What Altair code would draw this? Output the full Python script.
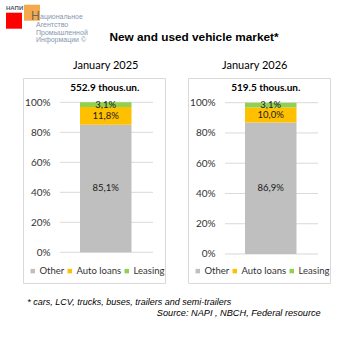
import altair as alt
import pandas as pd

# ---------------- data ----------------
periods = ["January 2025", "January 2026"]
totals = [552.9, 519.5]
categories = ["Other", "Auto loans", "Leasing"]
other = [85.1, 86.9]
auto_loans = [11.8, 10.0]
leasing = [3.1, 3.1]
colors = ["#BFBFBF", "#FFC000", "#92D050"]
y_ticks = [0, 20, 40, 60, 80, 100]

main_title = "New and used vehicle market*"
footnote = "* cars, LCV, trucks, buses, trailers and semi-trailers"
source = "Source: NAPI , NBCH, Federal resource"
logo_small = "НАПИ"
logo_big = "Н"
logo_first = "ациональное"
logo_rest = ["Агентство", "Промышленной", "Информации ©"]

FONT = "Lato"
ARIAL = "Liberation Sans"

rows = []
for i, p in enumerate(periods):
    for k, (cat, vals) in enumerate(zip(categories, [other, auto_loans, leasing])):
        v = vals[i]
        rows.append({"period": p, "category": cat, "value": v, "order": k,
                     "label": f"{v:.1f}%".replace(".", ",")})
df = pd.DataFrame(rows)
head_df = pd.DataFrame({"period": periods,
                        "header": [f"{t:.1f} thous.un." for t in totals]})
grid_df = pd.DataFrame({"tick": y_ticks})
one = pd.DataFrame({"a": [0]})

panel_cfg = [
    dict(domain=[-20.47, 116.2], title_dx=0, head_dx=-1),
    dict(domain=[-19.17, 116.32], title_dx=-16, head_dx=-5),
]


def make_panel(i):
    p = periods[i]
    cfg = panel_cfg[i]
    yscale = alt.Scale(domain=cfg["domain"], nice=False, zero=False)
    yaxis = alt.Axis(values=y_ticks, labelExpr="datum.value + '%'", title=None,
                     domain=False, ticks=False, tickSize=0, grid=False,
                     labelPadding=0, offset=-27, labelFont=FONT,
                     labelFontSize=10, labelColor="#333333")
    xscale = alt.Scale(domain=[p], range=[57, 108.5], paddingInner=0, paddingOuter=0)
    xenc = alt.X("period:N", scale=xscale, axis=None)
    d = df[df.period == p]
    h = head_df[head_df.period == p]

    grid = alt.Chart(grid_df).mark_rule(color="#D9D9D9", strokeWidth=1).encode(
        y=alt.Y("tick:Q", scale=yscale, axis=yaxis),
        x=alt.value(37), x2=alt.value(130))

    bars = alt.Chart(d).mark_bar().encode(
        x=xenc,
        y=alt.Y("value:Q", stack="zero", scale=yscale, axis=yaxis),
        color=alt.Color("category:N",
                        scale=alt.Scale(domain=categories, range=colors),
                        legend=alt.Legend(orient="none", legendX=5, legendY=188,
                                          direction="horizontal", title=None,
                                          symbolType="square", symbolSize=20,
                                          symbolStrokeWidth=0,
                                          labelFont=FONT, labelFontSize=9.5,
                                          labelColor="#333333", labelOffset=2,
                                          columnPadding=0, padding=0)),
        order=alt.Order("order:Q", sort="ascending"))

    labels = alt.Chart(d).transform_stack(
        stack="value", groupby=["period"], as_=["y0", "y1"],
        sort=[alt.SortField("order", order="ascending")]
    ).transform_calculate(mid="(datum.y0 + datum.y1) / 2").mark_text(
        font=FONT, fontSize=9.5, color="#1a1a1a", baseline="middle"
    ).encode(x=xenc, y=alt.Y("mid:Q", scale=yscale, axis=yaxis), text="label:N")

    header = alt.Chart(h).mark_text(
        font=FONT, fontSize=10, fontWeight="bold", color="#000000",
        baseline="middle", dx=cfg["head_dx"]
    ).encode(x=xenc, y=alt.value(10), text="header:N")

    ptitle = alt.Chart(h).mark_text(
        font=FONT, fontSize=11, color="#000000", baseline="middle",
        dx=cfg["title_dx"]
    ).encode(x=xenc, y=alt.value(-12), text="period:N")

    layers = [grid, bars, labels, header, ptitle]

    if i == 0:
        red = alt.Chart(one).mark_rect(color="#FF0000").encode(
            x=alt.value(-17), x2=alt.value(-1), y=alt.value(-65.3), y2=alt.value(-49.3))
        orange = alt.Chart(one).mark_rect(color="#F39A2E", opacity=0.85).encode(
            x=alt.value(1), x2=alt.value(17), y=alt.value(-73.3), y2=alt.value(-57.3))
        t_small = alt.Chart(one).mark_text(
            font=ARIAL, fontSize=6, fontWeight="bold", color="#4A5A6A",
            align="left", baseline="alphabetic"
        ).encode(x=alt.value(-17), y=alt.value(-68.5), text=alt.value(logo_small))
        t_big = alt.Chart(one).mark_text(
            font=ARIAL, fontSize=12, color="#666666", align="left", baseline="alphabetic"
        ).encode(x=alt.value(8), y=alt.value(-58.5), text=alt.value(logo_big))
        t_first = alt.Chart(one).mark_text(
            font=ARIAL, fontSize=7, color="#8497B0", align="left", baseline="alphabetic"
        ).encode(x=alt.value(17), y=alt.value(-59), text=alt.value(logo_first))
        t_rest = alt.Chart(one).mark_text(
            font=ARIAL, fontSize=7, color="#8497B0", align="left",
            baseline="alphabetic", lineHeight=7.7
        ).encode(x=alt.value(13), y=alt.value(-51), text=alt.value(logo_rest))
        t_title = alt.Chart(one).mark_text(
            font=ARIAL, fontSize=11.8, fontWeight="bold", color="#000000",
            align="center", baseline="middle"
        ).encode(x=alt.value(171), y=alt.value(-40.7), text=alt.value(main_title))
        t_foot = alt.Chart(one).mark_text(
            font=ARIAL, fontSize=9, fontStyle="italic", color="#000000",
            align="left", baseline="middle"
        ).encode(x=alt.value(4.3), y=alt.value(224), text=alt.value(footnote))
        t_src = alt.Chart(one).mark_text(
            font=ARIAL, fontSize=9.2, fontStyle="italic", color="#000000",
            align="right", baseline="middle"
        ).encode(x=alt.value(297.7), y=alt.value(235.3), text=alt.value(source))
        layers += [red, orange, t_small, t_big, t_first, t_rest, t_title, t_foot, t_src]

    return alt.layer(*layers).properties(width=142, height=205)


chart = alt.hconcat(make_panel(0), make_panel(1), spacing=23, bounds="flush").resolve_scale(
    x="independent", y="independent"
).resolve_legend(color="independent").configure_view(
    stroke="#D9D9D9", strokeWidth=1
).properties(
    padding={"left": 5, "top": 4, "right": 0, "bottom": 0},
    background="#FFFFFF"
)

chart.save("out.html", embed_options={"renderer": "svg", "actions": False})
